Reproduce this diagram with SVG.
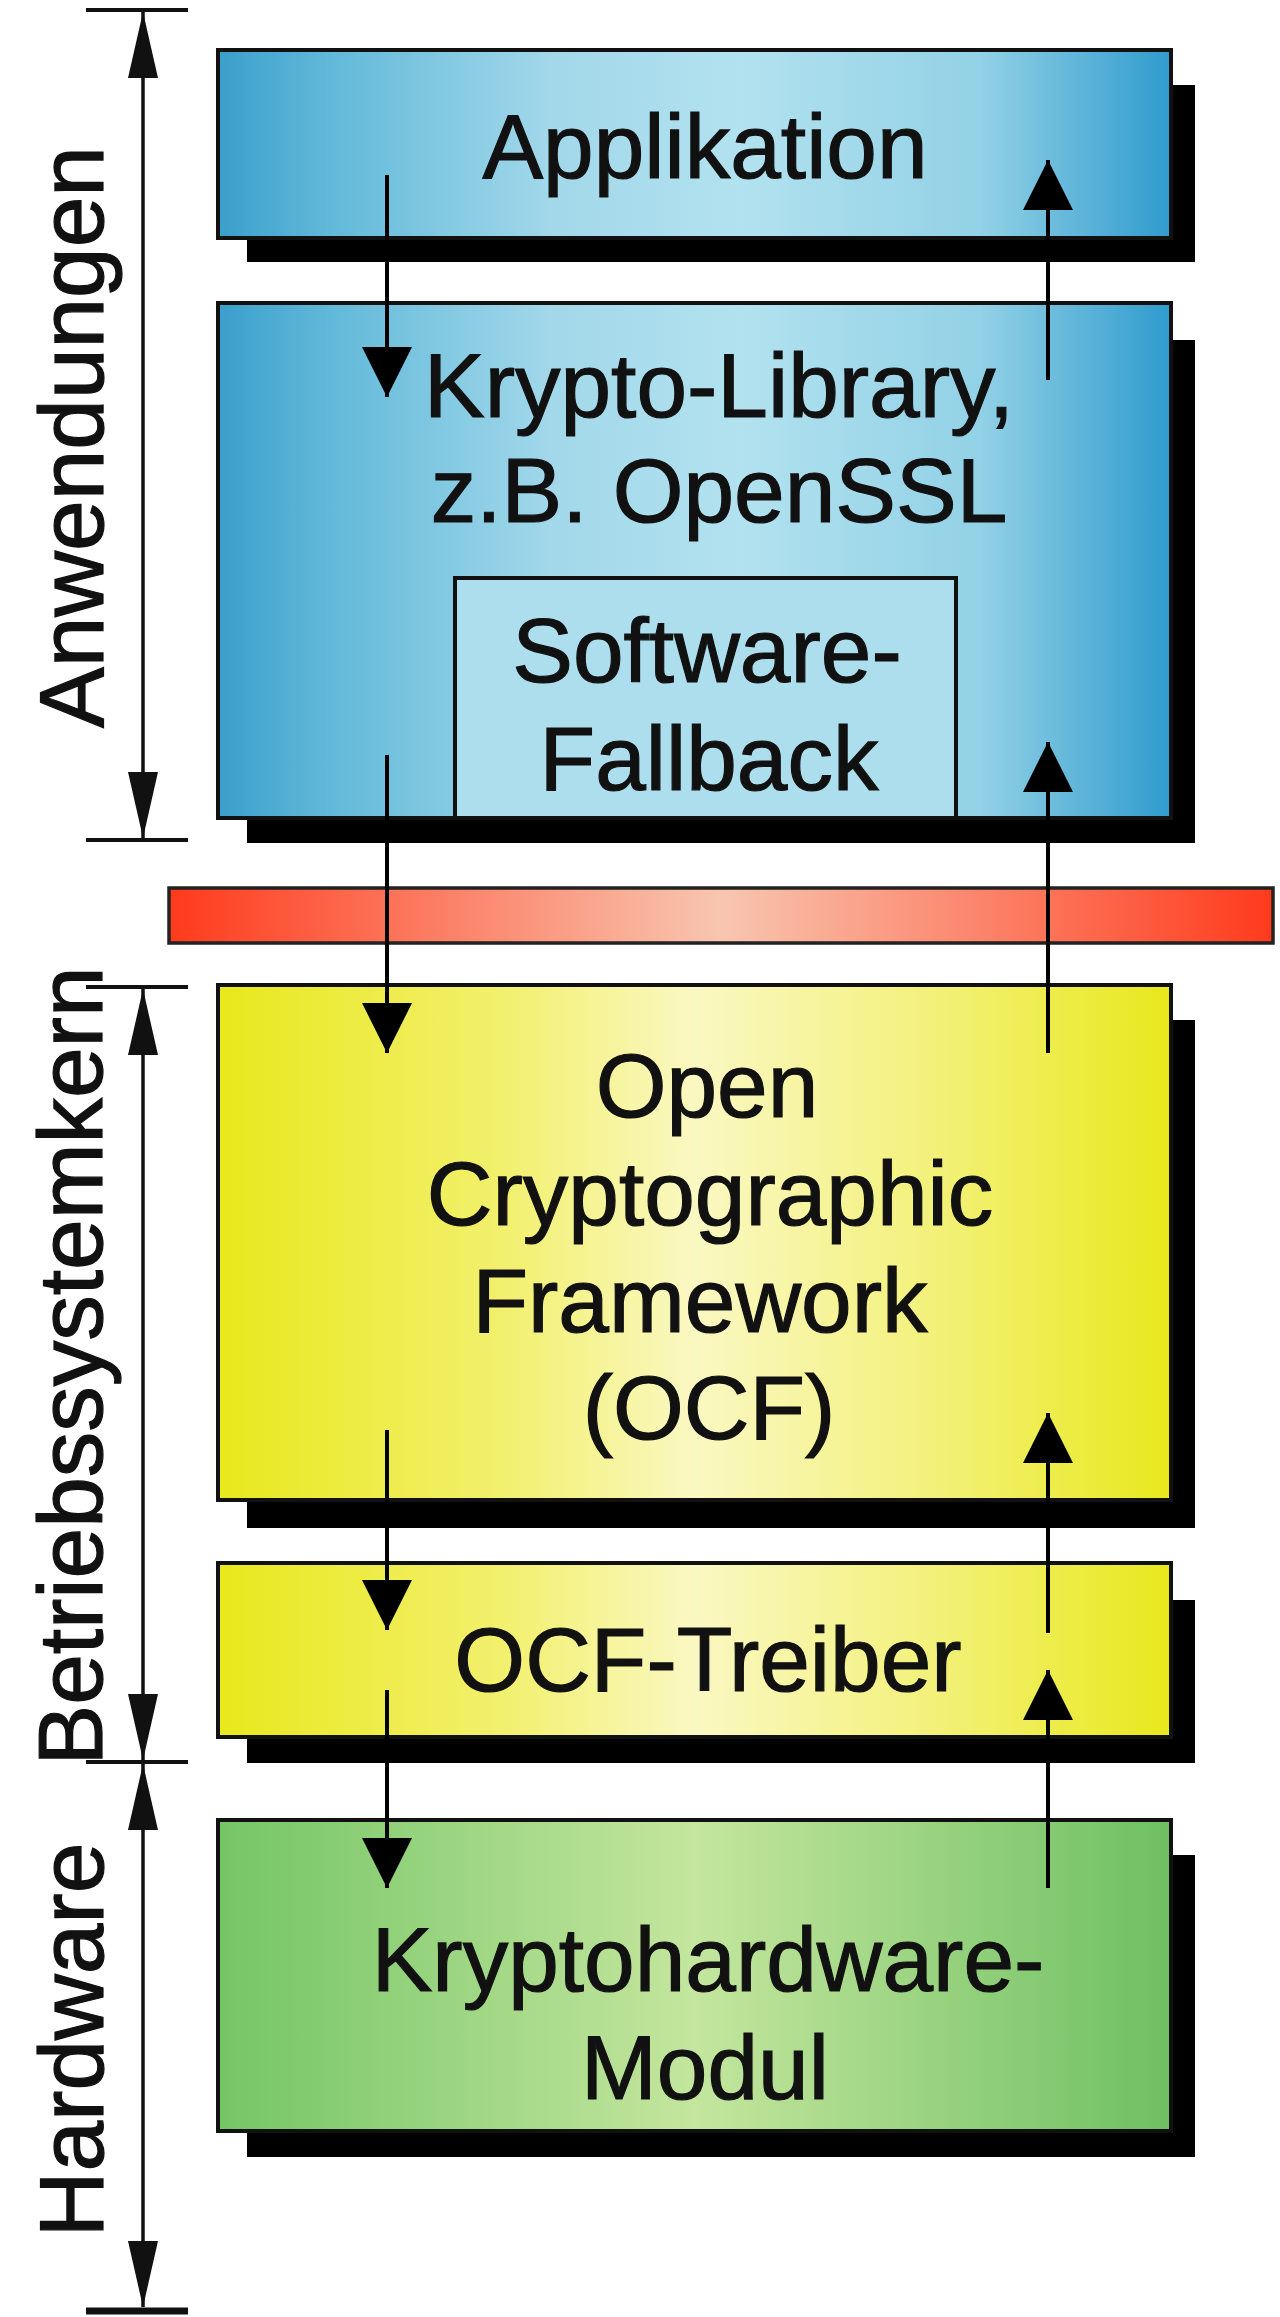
<svg xmlns="http://www.w3.org/2000/svg" width="1280" height="2317" viewBox="0 0 1280 2317">
<style>
.box{stroke:#111;stroke-width:4}
.shadow{fill:#000}
.lbl{font-family:"Liberation Sans",Arial,sans-serif;font-size:91px;fill:#111;stroke:#111;stroke-width:1.2;text-anchor:middle}
.con{stroke:#000;stroke-width:4;fill:none}
.dim{stroke:#111;stroke-width:3.5;fill:none}
.tick{stroke:#111;stroke-width:4}
</style>
<defs>
<linearGradient id="gBlue" x1="0" y1="0" x2="1" y2="0">
<stop offset="0" stop-color="#3a9fcb"/>
<stop offset="0.12" stop-color="#62b9d9"/>
<stop offset="0.35" stop-color="#a2d8ea"/>
<stop offset="0.55" stop-color="#b2e2ef"/>
<stop offset="0.8" stop-color="#92d1e6"/>
<stop offset="1" stop-color="#2f9bcd"/>
</linearGradient>
<linearGradient id="gYellow" x1="0" y1="0" x2="1" y2="0">
<stop offset="0" stop-color="#e8e81c"/>
<stop offset="0.3" stop-color="#f2f06e"/>
<stop offset="0.5" stop-color="#faf8c2"/>
<stop offset="0.75" stop-color="#f3f17a"/>
<stop offset="1" stop-color="#e8e81c"/>
</linearGradient>
<linearGradient id="gGreen" x1="0" y1="0" x2="1" y2="0">
<stop offset="0" stop-color="#74c565"/>
<stop offset="0.5" stop-color="#c4e69e"/>
<stop offset="1" stop-color="#6ec062"/>
</linearGradient>
<linearGradient id="gRed" x1="0" y1="0" x2="1" y2="0">
<stop offset="0" stop-color="#ff3a1c"/>
<stop offset="0.5" stop-color="#f8c6b0"/>
<stop offset="1" stop-color="#ff3a1c"/>
</linearGradient>
<marker id="ah" viewBox="0 0 50 50" refX="50" refY="25" markerWidth="50" markerHeight="50" markerUnits="userSpaceOnUse" orient="auto">
<path d="M0,0 L50,25 L0,50 z" fill="#000"/>
</marker>
<marker id="dh" viewBox="0 0 66 30" refX="66" refY="15" markerWidth="66" markerHeight="30" markerUnits="userSpaceOnUse" orient="auto-start-reverse">
<path d="M0,0 L66,15 L0,30 z" fill="#111"/>
</marker>
</defs>
<rect width="1280" height="2317" fill="#fff"/>

<g id="dim-anwendungen">
<line class="tick" x1="86" y1="10" x2="188" y2="10"/>
<line class="tick" x1="86" y1="840" x2="188" y2="840"/>
<line class="dim" x1="143" y1="12" x2="143" y2="838" marker-start="url(#dh)" marker-end="url(#dh)"/>
<text class="lbl" transform="translate(103,437) rotate(-90)">Anwendungen</text>
</g>
<g id="dim-betriebssystemkern">
<line class="tick" x1="86" y1="987" x2="188" y2="987"/>
<line class="tick" x1="86" y1="1762" x2="188" y2="1762"/>
<line class="dim" x1="143" y1="989" x2="143" y2="1760" marker-start="url(#dh)" marker-end="url(#dh)"/>
<text class="lbl" transform="translate(102,1366) rotate(-90)">Betriebssystemkern</text>
</g>
<g id="dim-hardware">
<line class="tick" x1="86" y1="2311" x2="188" y2="2311" style="stroke-width:7"/>
<line class="dim" x1="143" y1="1764" x2="143" y2="2307" marker-start="url(#dh)" marker-end="url(#dh)"/>
<text class="lbl" transform="translate(103,2040) rotate(-90)">Hardware</text>
</g>

<g id="node-applikation">
<rect class="shadow" x="247" y="85" width="948" height="177"/>
<rect class="box" x="218" y="50" width="953" height="188" fill="url(#gBlue)"/>
<text class="lbl" x="705" y="178">Applikation</text>
</g>

<g id="node-krypto-library">
<rect class="shadow" x="247" y="340" width="948" height="503"/>
<rect class="box" x="218" y="303" width="953" height="515" fill="url(#gBlue)"/>
<text class="lbl" x="719" y="417">Krypto-Library,</text>
<text class="lbl" x="719" y="522">z.B. OpenSSL</text>
</g>

<g id="node-software-fallback">
<rect x="455" y="578" width="501" height="240" fill="#addeed" stroke="#111" stroke-width="4"/>
<text class="lbl" x="707" y="682">Software-</text>
<text class="lbl" x="709" y="790">Fallback</text>
</g>

<g id="node-barrier">
<rect x="169" y="888" width="1104" height="55" fill="url(#gRed)" stroke="#222" stroke-width="3.5"/>
</g>

<g id="node-ocf">
<rect class="shadow" x="247" y="1020" width="948" height="508"/>
<rect class="box" x="218" y="985" width="953" height="515" fill="url(#gYellow)"/>
<text class="lbl" x="707" y="1117">Open</text>
<text class="lbl" x="710" y="1225">Cryptographic</text>
<text class="lbl" x="700" y="1332">Framework</text>
<text class="lbl" x="709" y="1439">(OCF)</text>
</g>

<g id="node-ocf-treiber">
<rect class="shadow" x="247" y="1600" width="948" height="163"/>
<rect class="box" x="218" y="1563" width="953" height="174" fill="url(#gYellow)"/>
<text class="lbl" x="708" y="1691">OCF-Treiber</text>
</g>

<g id="node-kryptohardware">
<rect class="shadow" x="247" y="1855" width="948" height="302"/>
<rect class="box" x="218" y="1820" width="953" height="311" fill="url(#gGreen)"/>
<text class="lbl" x="708" y="1991">Kryptohardware-</text>
<text class="lbl" x="705" y="2099">Modul</text>
</g>

<g id="connectors">
<line class="con" x1="387" y1="175" x2="387" y2="397" marker-end="url(#ah)"/>
<line class="con" x1="387" y1="755" x2="387" y2="1053" marker-end="url(#ah)"/>
<line class="con" x1="387" y1="1430" x2="387" y2="1630" marker-end="url(#ah)"/>
<line class="con" x1="387" y1="1690" x2="387" y2="1888" marker-end="url(#ah)"/>
<line class="con" x1="1048" y1="380" x2="1048" y2="160" marker-end="url(#ah)"/>
<line class="con" x1="1048" y1="1053" x2="1048" y2="742" marker-end="url(#ah)"/>
<line class="con" x1="1048" y1="1633" x2="1048" y2="1413" marker-end="url(#ah)"/>
<line class="con" x1="1048" y1="1888" x2="1048" y2="1670" marker-end="url(#ah)"/>
</g>
</svg>
